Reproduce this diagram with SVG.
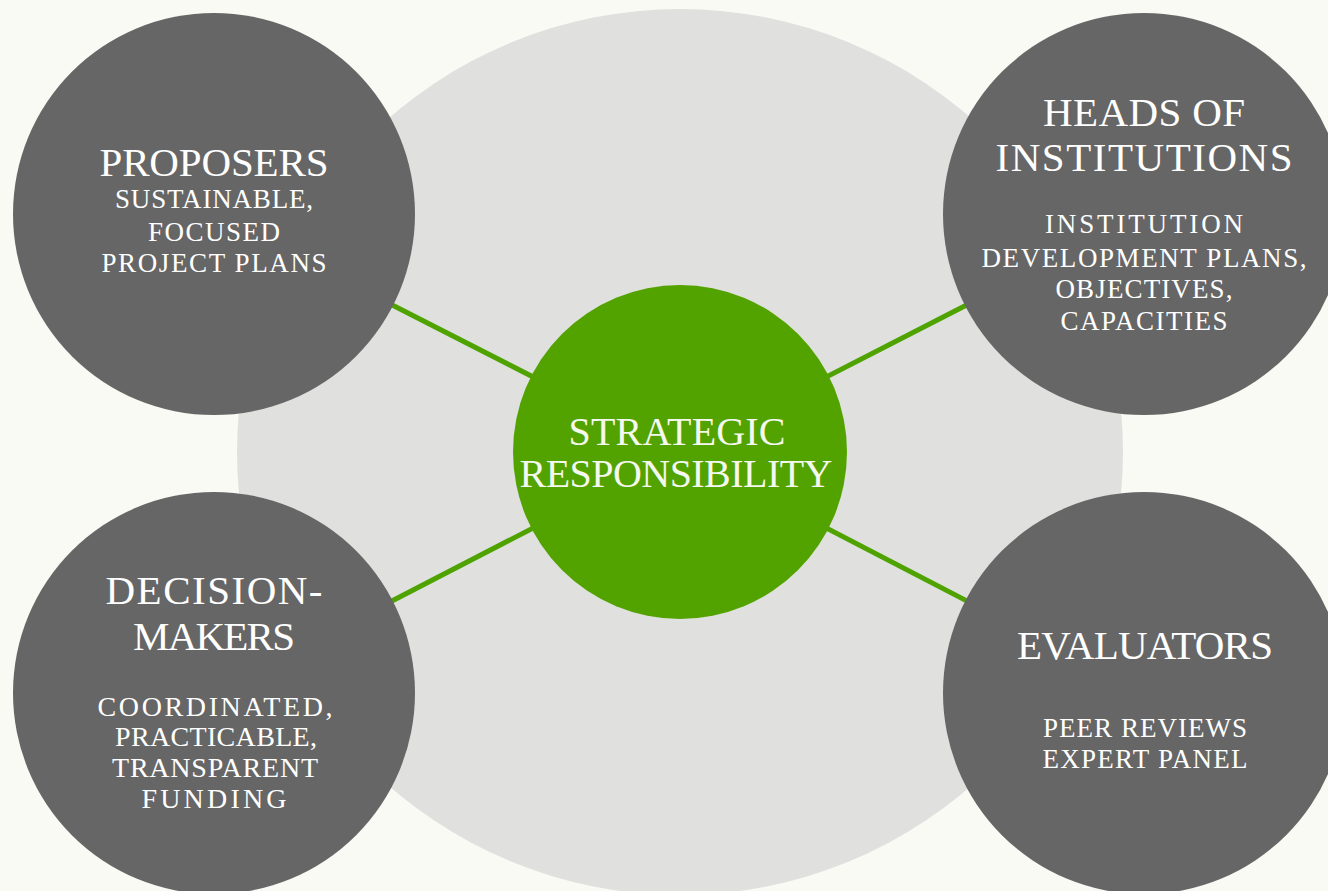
<svg xmlns="http://www.w3.org/2000/svg" width="1328" height="891" viewBox="0 0 1328 891">
<style>
.bg{fill:#fafaf5}
.halo{fill:#e0e0de}
.node{fill:#666666}
.hub{fill:#52a300}
.link{stroke:#4fa300;stroke-width:5;fill:none}
text{font-family:"Liberation Serif","Times New Roman",serif;fill:#ffffff;text-anchor:middle}
.t{font-size:41px}
.s{font-size:27px}
.d{font-size:28px}
.hubt{font-size:40px;fill:#f4f8ee}
</style>
<rect class="bg" x="0" y="0" width="1328" height="891"/>
<circle class="halo" cx="680" cy="452" r="443"/>
<g id="connectors">
<line class="link" x1="214" y1="214" x2="680" y2="452"/>
<line class="link" x1="1144" y1="214" x2="680" y2="452"/>
<line class="link" x1="214" y1="693" x2="680" y2="452"/>
<line class="link" x1="1144" y1="693" x2="680" y2="452"/>
</g>
<g id="proposers">
<circle class="node" cx="214" cy="214" r="201"/>
<text class="t" x="214" y="176" textLength="229">PROPOSERS</text>
<text class="s" x="214" y="208" textLength="198">SUSTAINABLE,</text>
<text class="s" x="214" y="241" textLength="132">FOCUSED</text>
<text class="s" x="214" y="272" textLength="225">PROJECT PLANS</text>
</g>
<g id="heads-of-institutions">
<circle class="node" cx="1144" cy="214" r="201"/>
<text class="t" x="1144" y="126" textLength="202">HEADS OF</text>
<text class="t" x="1144" y="171" textLength="297">INSTITUTIONS</text>
<text class="s" x="1144" y="233" textLength="198">INSTITUTION</text>
<text class="s" x="1144" y="267" textLength="325">DEVELOPMENT PLANS,</text>
<text class="s" x="1144" y="298" textLength="177">OBJECTIVES,</text>
<text class="s" x="1144" y="330" textLength="167">CAPACITIES</text>
</g>
<g id="decision-makers">
<circle class="node" cx="214" cy="693" r="201"/>
<text class="t" x="214" y="604" textLength="217">DECISION-</text>
<text class="t" x="214" y="650" textLength="162">MAKERS</text>
<text class="d" x="215" y="716" textLength="235">COORDINATED,</text>
<text class="d" x="216" y="746" textLength="202">PRACTICABLE,</text>
<text class="d" x="215" y="777" textLength="206">TRANSPARENT</text>
<text class="d" x="214" y="808" textLength="145">FUNDING</text>
</g>
<g id="evaluators">
<circle class="node" cx="1144" cy="693" r="201"/>
<text class="t" x="1145" y="659" textLength="256">EVALUATORS</text>
<text class="s" x="1145" y="737" textLength="204">PEER REVIEWS</text>
<text class="s" x="1145" y="768" textLength="205">EXPERT PANEL</text>
</g>
<g id="strategic-responsibility">
<circle class="hub" cx="680" cy="452" r="167"/>
<text class="hubt" x="677" y="445" textLength="217">STRATEGIC</text>
<text class="hubt" x="676" y="487" textLength="313">RESPONSIBILITY</text>
</g>
</svg>
